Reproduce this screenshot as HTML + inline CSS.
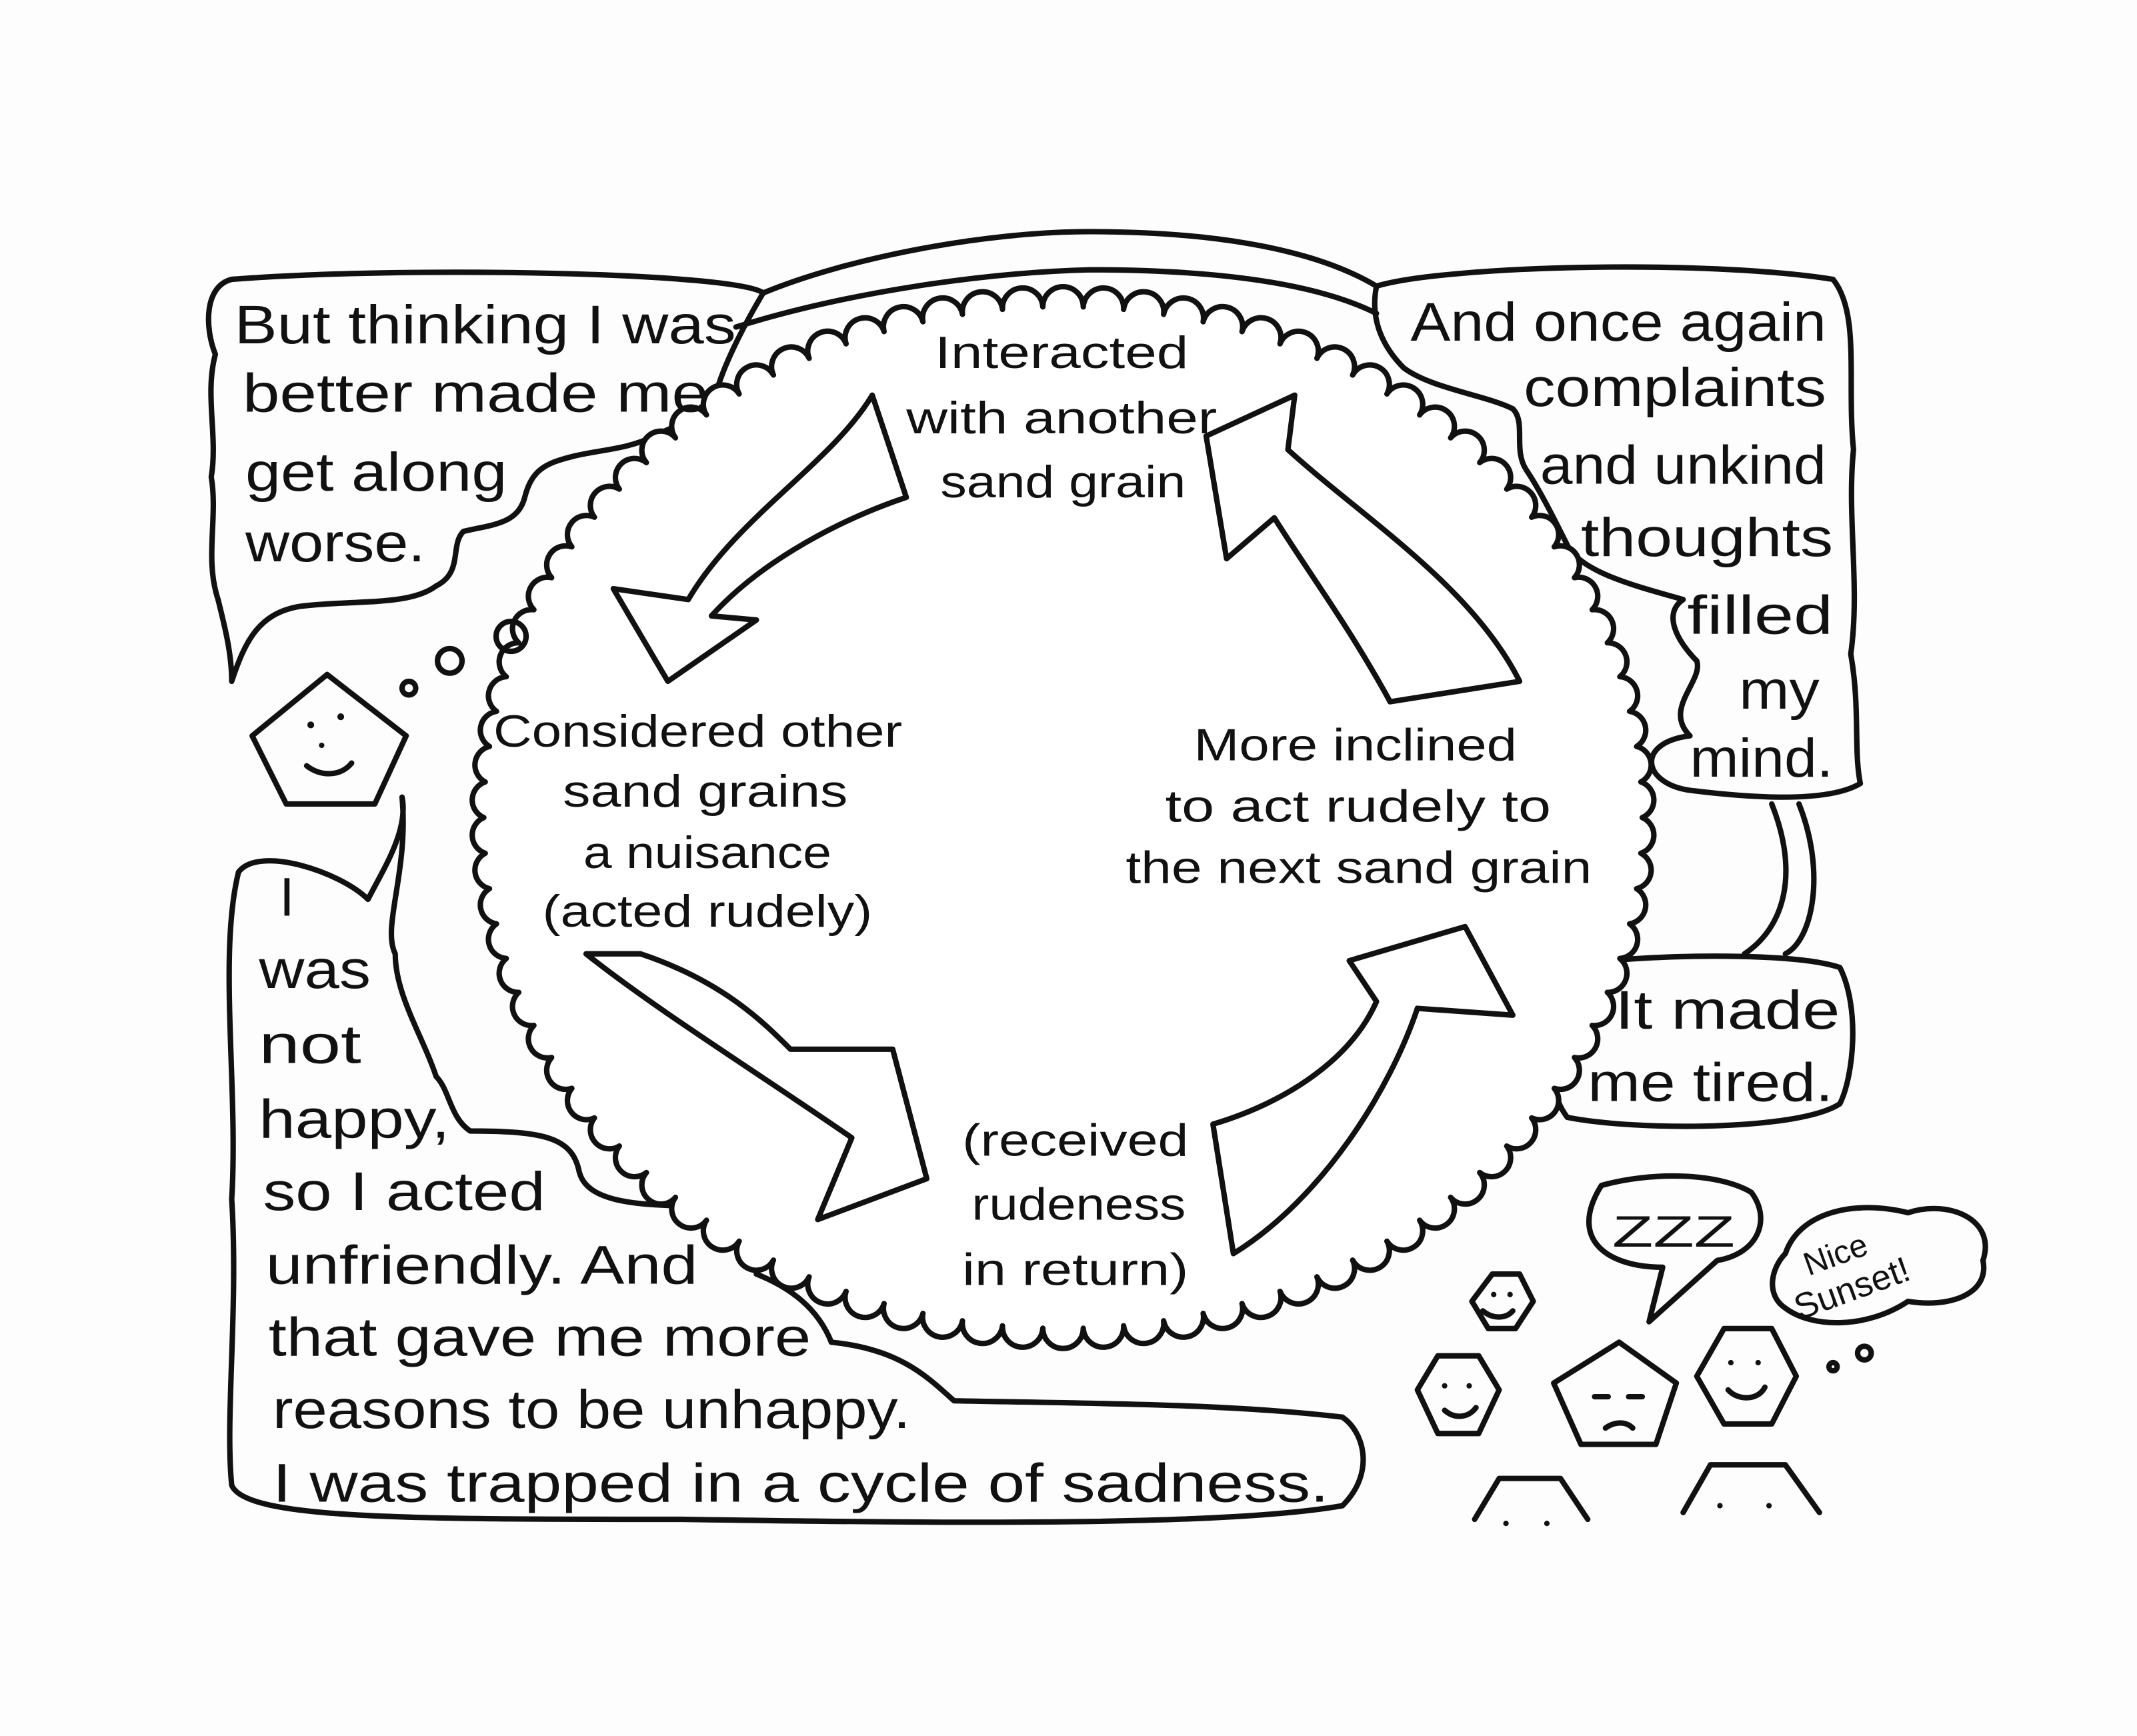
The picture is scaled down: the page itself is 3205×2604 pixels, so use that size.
<!DOCTYPE html>
<html><head><meta charset="utf-8"><style>
html,body{margin:0;padding:0;background:#fff;}
svg{display:block}
text{font-family:"Liberation Sans",sans-serif;fill:#111;}
.o{font-size:40px;}
.c{font-size:33px;}
</style></head><body>
<svg id="s" width="3205" height="2604" viewBox="0 0 1568 1274" xmlns="http://www.w3.org/2000/svg">
<rect width="1568" height="1274" fill="#fdfdfd"/>
<g fill="none" stroke="#111" stroke-width="4" stroke-linejoin="round" stroke-linecap="round">
<path d="M560,215 C540,200 300,195 170,205 C150,210 150,240 158,260 C150,290 160,320 155,350 C160,380 150,410 160,440 C165,460 170,480 170,500 C180,470 190,450 220,445 C260,440 300,445 320,430 C340,420 330,400 340,390 C360,385 380,385 385,365 C390,345 400,340 420,335 C440,330 460,330 480,320 C500,310 520,305 525,290 C530,270 545,240 560,215"/>
<path d="M560,215 C620,190 720,170 800,170 C880,170 960,180 1010,210"/>
<path d="M540,240 C620,215 720,200 800,198 C880,198 960,205 1010,230"/>
<path d="M1010,210 C1060,195 1250,190 1345,205 C1365,230 1355,280 1360,330 C1355,380 1365,430 1358,480 C1365,520 1360,550 1365,575 C1340,590 1280,585 1240,580 C1205,575 1200,545 1240,540 C1220,520 1250,500 1245,485 C1230,470 1220,450 1235,440 C1200,430 1160,420 1150,400 C1140,380 1130,360 1120,345 C1110,330 1120,310 1110,300 C1090,290 1050,285 1030,270 C1015,255 1005,235 1010,210"/>
<path d="M1320,590 C1340,640 1330,690 1310,700 M1300,590 C1320,640 1310,680 1280,700"/>
<path d="M1180,705 C1240,700 1320,700 1350,710 C1365,740 1360,790 1350,810 C1320,830 1200,830 1150,820 C1135,800 1140,780 1160,770 C1155,750 1160,720 1180,705"/>
<path d="M295,585 C300,610 280,640 270,660 C250,640 190,620 175,640 C160,700 175,800 170,880 C175,960 165,1040 170,1090 C180,1115 300,1115 500,1115 C700,1118 900,1120 985,1105 C1010,1080 1000,1050 985,1040 C900,1030 800,1030 700,1028 C680,1010 660,990 610,985 C600,960 580,945 555,935 C550,910 540,890 510,885 C460,885 430,880 425,860 C420,835 400,830 345,830 C330,820 330,800 320,790 C310,760 290,730 290,700 C280,680 300,640 295,585"/>
<ellipse id="cl" cx="780" cy="600" rx="420" ry="370" fill="#fff"/>
<path fill="#fff" d="M640,290 C610,340 540,380 505,440 L450,432 L490,500 L555,455 L522,452 C560,410 620,380 665,365 Z"/>
<path fill="#fff" d="M430,700 L470,700 C530,720 560,750 580,770 L655,770 L680,865 L600,895 L625,835 C560,790 480,740 430,700 Z"/>
<path fill="#fff" d="M905,920 C970,880 1020,800 1040,740 L1110,745 L1075,680 L990,705 L1010,735 C990,780 940,810 890,825 Z"/>
<path fill="#fff" d="M1020,515 C990,460 960,420 935,380 L900,410 L885,320 L950,290 L945,330 C1000,380 1080,430 1115,500 Z"/>
<circle cx="300" cy="505" r="5"/><circle cx="330" cy="485" r="9"/><circle cx="375" cy="467" r="11"/>
<path d="M240,495 L298,540 L275,590 L210,590 L185,540 Z"/>
<path d="M225,562 C235,570 250,570 258,560"/>
<path d="M1080,955 L1095,935 L1115,935 L1125,955 L1112,975 L1092,975 Z"/>
<path d="M1088,962 C1095,968 1105,968 1110,962"/>
<path d="M1040,1020 L1055,995 L1085,995 L1100,1020 L1085,1052 L1055,1052 Z"/>
<path d="M1060,1035 C1068,1042 1078,1040 1083,1033"/>
<path d="M1188,985 L1230,1015 L1215,1060 L1160,1060 L1140,1015 Z"/>
<path d="M1170,1025 L1180,1025 M1195,1025 L1205,1025 M1178,1048 C1185,1043 1193,1043 1198,1048"/>
<path d="M1265,975 L1300,975 L1318,1010 L1300,1045 L1265,1045 L1245,1010 Z"/>
<path d="M1268,1020 C1275,1028 1290,1028 1295,1018"/>
<path d="M1082,1115 L1100,1085 L1145,1085 L1165,1115"/>
<path d="M1235,1110 L1255,1075 L1310,1075 L1335,1110"/>
<path d="M1175,870 C1210,860 1260,860 1285,875 C1300,895 1290,920 1260,925 L1210,970 L1220,930 C1180,930 1150,910 1175,870"/>
<path d="M1310,920 C1320,890 1360,880 1400,890 C1430,880 1465,895 1455,925 C1460,950 1430,960 1400,955 C1370,975 1330,975 1310,960 C1295,950 1300,930 1310,920"/>
<circle cx="1345" cy="1003" r="3"/><circle cx="1368" cy="993" r="5"/>
</g>
<g fill="#111">
<circle cx="228" cy="532" r="2.5"/><circle cx="250" cy="526" r="2.5"/><circle cx="236" cy="547" r="2"/>
<circle cx="1096" cy="950" r="2"/><circle cx="1108" cy="950" r="2"/>
<circle cx="1060" cy="1017" r="2"/><circle cx="1078" cy="1017" r="2"/>
<circle cx="1270" cy="1000" r="2"/><circle cx="1290" cy="1000" r="2"/>
<circle cx="1105" cy="1118" r="2"/><circle cx="1135" cy="1118" r="2"/>
<circle cx="1262" cy="1105" r="2"/><circle cx="1298" cy="1105" r="2"/>
</g>
<g>
<text class="o" x="172" y="252" textLength="368" lengthAdjust="spacingAndGlyphs">But thinking I was</text>
<text class="o" x="178" y="302" textLength="342" lengthAdjust="spacingAndGlyphs">better made me</text>
<text class="o" x="180" y="360" textLength="192" lengthAdjust="spacingAndGlyphs">get along</text>
<text class="o" x="180" y="412" textLength="132" lengthAdjust="spacingAndGlyphs">worse.</text>
<text class="o" x="1035" y="250" textLength="305" lengthAdjust="spacingAndGlyphs">And once again</text>
<text class="o" x="1118" y="298" textLength="222" lengthAdjust="spacingAndGlyphs">complaints</text>
<text class="o" x="1130" y="355" textLength="210" lengthAdjust="spacingAndGlyphs">and unkind</text>
<text class="o" x="1160" y="408" textLength="185" lengthAdjust="spacingAndGlyphs">thoughts</text>
<text class="o" x="1238" y="465" textLength="107" lengthAdjust="spacingAndGlyphs">filled</text>
<text class="o" x="1276" y="520" textLength="59" lengthAdjust="spacingAndGlyphs">my</text>
<text class="o" x="1240" y="570" textLength="105" lengthAdjust="spacingAndGlyphs">mind.</text>
<text class="o" x="1185" y="755" textLength="165" lengthAdjust="spacingAndGlyphs">It made</text>
<text class="o" x="1165" y="808" textLength="180" lengthAdjust="spacingAndGlyphs">me tired.</text>
<text class="o" x="205" y="672">I</text>
<text class="o" x="190" y="725" textLength="82" lengthAdjust="spacingAndGlyphs">was</text>
<text class="o" x="190" y="780" textLength="75" lengthAdjust="spacingAndGlyphs">not</text>
<text class="o" x="190" y="835" textLength="140" lengthAdjust="spacingAndGlyphs">happy,</text>
<text class="o" x="193" y="888" textLength="207" lengthAdjust="spacingAndGlyphs">so I acted</text>
<text class="o" x="195" y="942" textLength="317" lengthAdjust="spacingAndGlyphs">unfriendly. And</text>
<text class="o" x="197" y="995" textLength="398" lengthAdjust="spacingAndGlyphs">that gave me more</text>
<text class="o" x="200" y="1048" textLength="468" lengthAdjust="spacingAndGlyphs">reasons to be unhappy.</text>
<text class="o" x="200" y="1102" textLength="775" lengthAdjust="spacingAndGlyphs">I was trapped in a cycle of sadness.</text>
<text class="c" x="686" y="270" textLength="186" lengthAdjust="spacingAndGlyphs">Interacted</text>
<text class="c" x="665" y="318" textLength="228" lengthAdjust="spacingAndGlyphs">with another</text>
<text class="c" x="690" y="365" textLength="180" lengthAdjust="spacingAndGlyphs">sand grain</text>
<text class="c" x="362" y="548" textLength="300" lengthAdjust="spacingAndGlyphs">Considered other</text>
<text class="c" x="413" y="592" textLength="209" lengthAdjust="spacingAndGlyphs">sand grains</text>
<text class="c" x="428" y="637" textLength="182" lengthAdjust="spacingAndGlyphs">a nuisance</text>
<text class="c" x="398" y="680" textLength="242" lengthAdjust="spacingAndGlyphs">(acted rudely)</text>
<text class="c" x="876" y="558" textLength="237" lengthAdjust="spacingAndGlyphs">More inclined</text>
<text class="c" x="855" y="603" textLength="283" lengthAdjust="spacingAndGlyphs">to act rudely to</text>
<text class="c" x="826" y="648" textLength="342" lengthAdjust="spacingAndGlyphs">the next sand grain</text>
<text class="c" x="706" y="848" textLength="166" lengthAdjust="spacingAndGlyphs">(received</text>
<text class="c" x="713" y="895" textLength="157" lengthAdjust="spacingAndGlyphs">rudeness</text>
<text class="c" x="706" y="943" textLength="166" lengthAdjust="spacingAndGlyphs">in return)</text>
</g>
<text x="1183" y="915" style="font-size:32px" textLength="90" lengthAdjust="spacingAndGlyphs">ZZZ</text>
<text x="1325" y="935" style="font-size:24px" transform="rotate(-20 1330 930)">Nice</text>
<text x="1318" y="965" style="font-size:26px" transform="rotate(-20 1330 960)">Sunset!</text>
</svg>
<script>
(function(){
var cl=document.getElementById('cl');
var cx=780,cy=600,rx=425,ry=375,n=90,d='';
for(var i=0;i<=n;i++){var a=i/n*2*Math.PI;var x=cx+rx*Math.cos(a),y=cy+ry*Math.sin(a);
if(i==0)d+='M'+x+','+y;else d+=' A14,14 0 0 1 '+x+','+y;}
var p=document.createElementNS('http://www.w3.org/2000/svg','path');
p.setAttribute('d',d);p.setAttribute('fill','#fff');p.setAttribute('stroke','#111');p.setAttribute('stroke-width','4');
cl.parentNode.replaceChild(p,cl);
})();
</script>
</body></html>
